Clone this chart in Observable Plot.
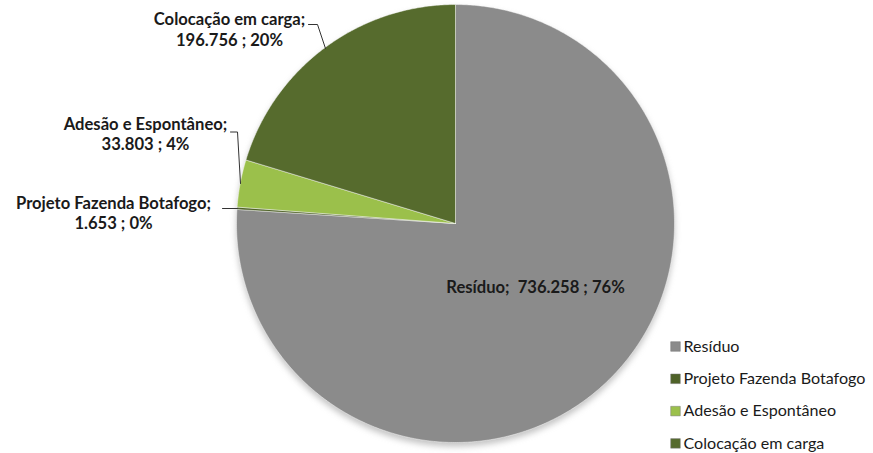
<!DOCTYPE html>
<html><head><meta charset="utf-8">
<script src="https://cdn.jsdelivr.net/npm/d3@7"></script>
<script src="https://cdn.jsdelivr.net/npm/@observablehq/plot@0.6"></script>
<style>body{margin:0;background:#fff}</style>
</head><body><div id="chart"></div>
<script>
// ---- data ----
const categories = ["Resíduo", "Projeto Fazenda Botafogo", "Adesão e Espontâneo", "Colocação em carga"];
const values = [736258, 1653, 33803, 196756];
const valueLabels = ["736.258", "1.653", "33.803", "196.756"];
const percentLabels = ["76%", "0%", "4%", "20%"];
const colors = ["#8b8b8b", "#4f6228", "#9bc04b", "#566b2d"];

// ---- layout (pixels) ----
const W = 873, H = 453, CX = 455, CY = 223, R = 219;
const fx = px => (px - CX) / R;
const fy = py => (CY - py) / R;

// pie geometry from data
const arcs = d3.pie().sort(null).value(d => d)(values);
const piePts = [];
arcs.forEach((a, i) => {
  const n = Math.max(2, Math.ceil((a.endAngle - a.startAngle) / (Math.PI / 360)));
  piePts.push({cat: categories[i], x: 0, y: 0});
  for (let k = 0; k <= n; k++) {
    const t = a.startAngle + (a.endAngle - a.startAngle) * k / n;
    piePts.push({cat: categories[i], x: Math.sin(t), y: Math.cos(t)});
  }
  piePts.push({cat: categories[i], x: 0, y: 0});
});

// data labels: text built from the data arrays, placement is layout
const labelPlace = [
  {i: 0, cx: 535, ys: [287], single: true},
  {i: 1, cx: 113, ys: [203, 223]},
  {i: 2, cx: 145, ys: [124, 144]},
  {i: 3, cx: 229, ys: [19, 40]}
];
const labelRows = [];
labelPlace.forEach(l => {
  const i = l.i;
  const lines = l.single
    ? [`${categories[i]};  ${valueLabels[i]} ; ${percentLabels[i]}`]
    : [`${categories[i]};`, `${valueLabels[i]} ; ${percentLabels[i]}`];
  lines.forEach((t, k) => labelRows.push({x: fx(l.cx), y: fy(l.ys[k]), text: t}));
});

const leaders = [
  {cat: categories[3], pts: [[308, 24], [317, 24], [325, 48]]},
  {cat: categories[2], pts: [[230, 131.5], [237, 131.5], [240, 183]]},
  {cat: categories[1], pts: [[222, 208], [237, 208]]}
];
const leaderPts = leaders.flatMap(l => l.pts.map(([px, py]) => ({cat: l.cat, x: fx(px), y: fy(py)})));

const legendRows = categories.map((c, i) => ({cat: c, y: fy(346 + i * 32.3)}));

const chart = Plot.plot({
  width: W, height: H,
  marginLeft: CX - R, marginRight: W - CX - R, marginTop: CY - R, marginBottom: H - CY - R,
  x: {domain: [-1, 1], axis: null},
  y: {domain: [-1, 1], axis: null},
  color: {domain: categories, range: colors},
  style: {fontFamily: "Lato, 'Open Sans', sans-serif", overflow: "visible", background: "#fff"},
  marks: [
    // soft shadow under the pie
    Plot.line(piePts, {x: "x", y: "y", z: "cat", fill: "#7a7a7a", fillOpacity: 0.45, stroke: "none", dy: 4, imageFilter: "blur(3px)"}),
    Plot.line(piePts, {x: "x", y: "y", z: "cat", fill: "cat", stroke: "#ffffff", strokeOpacity: 0.45, strokeWidth: 1, curve: "linear"}),
    Plot.line(leaderPts, {x: "x", y: "y", z: "cat", stroke: "#333", strokeWidth: 1}),
    Plot.text(labelRows, {x: "x", y: "y", text: "text", textAnchor: "middle", fontSize: 16.6, fontWeight: "bold", fill: "#1a1a1a"}),
    Plot.dot(legendRows, {x: fx(675), y: "y", symbol: "square", r: 5.4, fill: "cat", stroke: "#777", strokeWidth: 0.5}),
    Plot.text(legendRows, {x: fx(683), y: "y", text: "cat", textAnchor: "start", fontSize: 16.1, fill: "#1a1a1a"})
  ]
});
document.getElementById("chart").append(chart);
</script>
</body></html>
